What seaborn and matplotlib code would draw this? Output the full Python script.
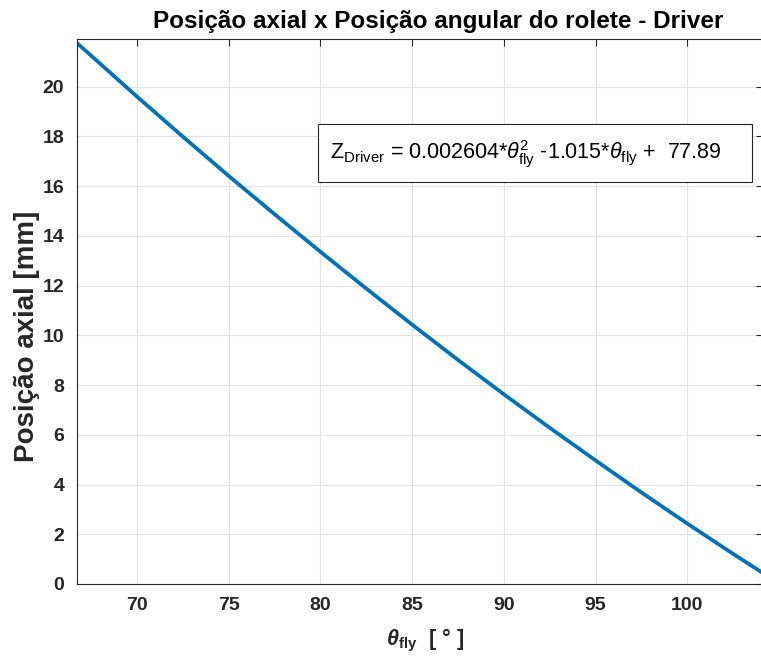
import matplotlib
matplotlib.use("Agg")
import matplotlib.pyplot as plt
from matplotlib.patches import Rectangle
import seaborn as sns
import pandas as pd

# Data
theta_fly = [66.72, 70.0, 72.5, 75.0, 77.5, 80.0, 82.5, 85.0, 87.5, 90.0,
             92.5, 95.0, 97.5, 100.0, 102.5, 104.1]
z_driver = [21.76, 19.60, 17.99, 16.41, 14.87, 13.36, 11.88, 10.43, 9.01, 7.63,
            6.28, 4.97, 3.68, 2.43, 1.21, 0.45]
x_ticks = [70, 75, 80, 85, 90, 95, 100]
y_ticks = [0, 2, 4, 6, 8, 10, 12, 14, 16, 18, 20]

title_text = "Posição axial x Posição angular do rolete - Driver"
ylabel_text = "Posição axial [mm]"
xlabel_text = r"$\mathbfit{\theta}_{\mathbf{fly}}$  [ ° ]"
eq_text = (r"Z$_{\mathrm{Driver}}$ = 0.002604*$\theta^{2}_{\mathrm{fly}}$"
           r" -1.015*$\theta_{\mathrm{fly}}$ +  77.89")

df = pd.DataFrame({"theta": theta_fly, "z": z_driver})

sns.set_theme(style="whitegrid")
plt.rcParams["font.family"] = ["Liberation Sans", "DejaVu Sans"]
plt.rcParams["mathtext.fontset"] = "custom"
plt.rcParams["mathtext.rm"] = "Liberation Sans"
plt.rcParams["mathtext.it"] = "Liberation Sans:italic"
plt.rcParams["mathtext.bf"] = "Liberation Sans:bold"
plt.rcParams["mathtext.bfit"] = "Liberation Sans:italic:bold"

W, H = 761, 659
fig = plt.figure(figsize=(W / 100, H / 100), dpi=100)
ax = fig.add_axes([76.7 / W, 1 - 584 / H, (W - 76.7) / W + 0.002, (584 - 39.3) / H])

sns.lineplot(data=df, x="theta", y="z", ax=ax, color="#0072BD", linewidth=2.7)

ax.set_xlim(66.72, 104.1)
ax.set_ylim(0, 21.9)
ax.set_xticks(x_ticks)
ax.set_yticks(y_ticks)
ax.set_xticklabels([str(v) for v in x_ticks], fontsize=14, fontweight="bold", color="#262626")
ax.set_yticklabels([str(v) for v in y_ticks], fontsize=14, fontweight="bold", color="#262626")
ax.tick_params(axis="both", direction="in", length=5, width=0.8, color="#262626",
               top=True, right=True)
ax.tick_params(axis="x", pad=9)
ax.tick_params(axis="y", pad=9)

ax.grid(True, color="#e3e3e3", linewidth=0.8)
ax.set_facecolor("white")
for side in ["left", "bottom", "top", "right"]:
    ax.spines[side].set_visible(True)
    ax.spines[side].set_color("#262626")
    ax.spines[side].set_linewidth(0.8)
ax.set_xlabel("")
ax.set_ylabel("")

fig.text(438 / W, 1 - 28 / H, title_text, ha="center", va="baseline",
         fontsize=17.5, fontweight="bold", color="black")
fig.text(27 / W, 1 - 336 / H, ylabel_text, ha="center", va="center", rotation=90,
         fontsize=20, fontweight="bold", color="#262626")
fig.text(425 / W, 1 - 645 / H, xlabel_text, ha="center", va="baseline",
         fontsize=15.5, fontweight="bold", color="#262626")

fig.patches.append(Rectangle((318.3 / W, 1 - 181.7 / H), (751.7 - 318.3) / W, (181.7 - 124) / H,
                             transform=fig.transFigure, facecolor="white",
                             edgecolor="#262626", linewidth=0.8, zorder=3))
fig.text(330 / W, 1 - 159 / H, eq_text, ha="left", va="baseline",
         fontsize=15.5, color="black", zorder=4)

fig.savefig("out.png", dpi=100)
